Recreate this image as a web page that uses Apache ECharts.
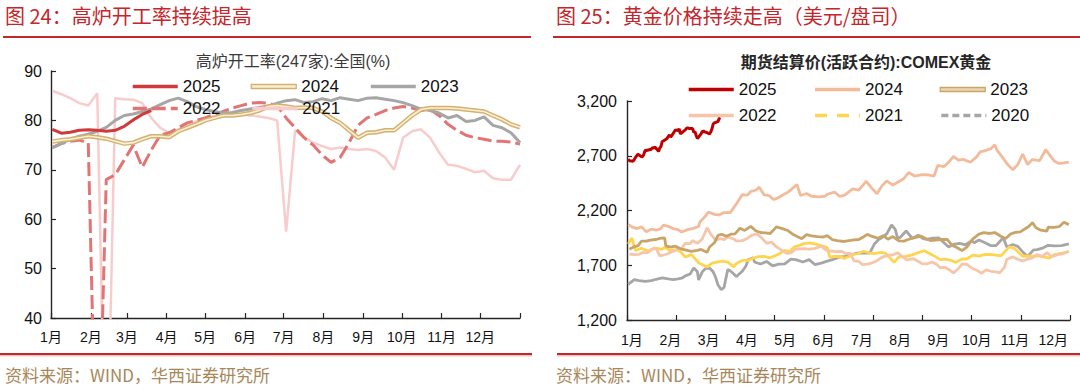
<!DOCTYPE html>
<html><head><meta charset="utf-8">
<script src="https://cdn.jsdelivr.net/npm/echarts@6/dist/echarts.min.js"></script>
<style>html,body{margin:0;padding:0;background:#fff}#c{width:1080px;height:390px}</style>
</head><body><div id="c"></div>
<script>
// ---------- text ----------
const leftHeading = '图 24：高炉开工率持续提高';
const rightHeading = '图 25：黄金价格持续走高（美元/盘司）';
const leftTitle = '高炉开工率(247家):全国(%)';
const rightTitle = '期货结算价(活跃合约):COMEX黄金';
const sourceNote = '资料来源：WIND，华西证券研究所';
const monthLabels = ['1月','2月','3月','4月','5月','6月','7月','8月','9月','10月','11月','12月'];
const monthStartDays = [0,31,59,90,120,151,181,212,243,273,304,334,365];
const bfYTicks = [40,50,60,70,80,90];
const goldYTicks = [1200,1700,2200,2700,3200];

// ---------- blast furnace utilisation, weekly (first week = day 1) ----------
const bf2025 = [78.2,77.4,77.6,78,78.1,78,77.8,78,78.8,80.1,81.2,82];
const bf2024 = [75.7,76,76.2,76.5,76.8,76.6,76.3,75.8,75.3,75.5,76.2,76.8,76.8,76.6,77.8,78.5,79.2,80,80.5,81,81,81.2,81.5,82,82.8,83,82.8,82.5,82.6,82.5,81.8,80.5,79.5,78,76.5,77.5,77.6,78,78,79.5,81,82.2,82.5,82.5,82.5,82.4,82.2,82,81.8,81,80.2,79.2,78.6];
const bf2023 = [74.5,75.3,76.2,76.8,77.2,77.8,78.6,80,81,81.3,81.8,82.3,83.2,84,84.5,83.8,82.8,82.2,81.8,81.5,81.6,82,82.3,82.6,82.9,83.5,84,84.2,83.6,83.8,84.4,84,84.6,84.3,84,84.5,84.6,84.3,84,83.6,83,82.3,82,81.5,80.5,81,79.8,80,80.7,79,78.5,77.5,75.5];
const bf2022 = [74.5,75.3,75.8,76,75.5,0,68,69,72,75,70.5,74,77,77.5,78.5,79.5,80,80.5,81.2,81.8,82.5,83,83.5,83.6,83.5,83,80.5,78.5,76.5,75,73,71.5,72.5,75.5,79,80.5,81.2,82,82.5,82.8,82.5,82,82.2,81,79.2,78,77,76.5,76.2,75.8,75.8,75.6,75.2];
const bf2021 = [86,85.3,84.5,83.5,83,85.5,0,84.5,84.3,84.2,83.5,80.5,78.5,77.5,78.2,79,79.8,80.3,80.8,81,81,81.2,81,80.8,80.5,80,57.5,78,76.5,75.5,74.8,74.2,74.5,74.2,74,74.2,73.8,72.5,70,76.5,77.8,78.2,76.5,73.5,71,70.8,70.2,69.5,69.8,68.3,68,68,71];

// ---------- COMEX gold, [day of year, USD/oz] ----------
const gold2025 = [[1,2669],[2,2655],[5,2650],[6,2665],[7,2685],[9,2715],[12,2690],[13,2694],[14,2718],[15,2750],[16,2748],[20,2760],[21,2775],[22,2770],[23,2780],[26,2740],[27,2770],[28,2785],[29,2830],[30,2835],[33,2857],[34,2877],[35,2890],[36,2870],[37,2886],[40,2937],[41,2932],[42,2930],[43,2946],[44,2900],[48,2936],[49,2950],[50,2954],[51,2950],[54,2950],[55,2915],[56,2920],[57,2885],[58,2857],[61,2900],[62,2921],[63,2925],[64,2918],[65,2915],[68,2900],[69,2917],[70,2945],[71,2990],[72,3001],[75,3013],[76,3041],[77,3048]];
const gold2024 = [[1,2073],[4,2050],[8,2035],[12,2050],[16,2006],[20,2030],[24,2020],[28,2035],[30,2067],[34,2055],[38,2035],[42,2025],[45,2004],[50,2025],[54,2035],[59,2054],[60,2095],[64,2140],[67,2186],[72,2165],[76,2160],[80,2181],[85,2180],[90,2258],[95,2345],[99,2340],[102,2374],[106,2385],[109,2413],[113,2342],[117,2335],[121,2300],[123,2308],[128,2340],[133,2370],[140,2438],[143,2337],[148,2355],[152,2330],[158,2325],[163,2330],[165,2348],[171,2369],[175,2330],[179,2339],[186,2397],[191,2385],[197,2467],[202,2400],[206,2353],[210,2425],[214,2470],[219,2432],[224,2465],[228,2490],[232,2547],[237,2515],[243,2527],[249,2524],[253,2515],[256,2611],[261,2600],[265,2640],[269,2694],[273,2660],[277,2667],[283,2640],[288,2690],[291,2736],[296,2750],[300,2765],[303,2800],[305,2749],[310,2676],[314,2615],[318,2572],[322,2620],[326,2716],[330,2621],[334,2665],[340,2656],[345,2757],[350,2680],[352,2653],[356,2630],[360,2635],[364,2641]];
const gold2023 = [[2,1846],[6,1870],[9,1877],[12,1921],[16,1920],[19,1930],[24,1935],[27,1945],[31,1950],[32,1876],[36,1865],[40,1874],[44,1850],[48,1840],[53,1826],[58,1836],[61,1844],[66,1818],[68,1867],[72,1905],[75,1973],[78,1982],[82,1965],[86,1985],[89,1986],[93,2038],[97,2018],[102,2055],[106,2015],[110,1999],[114,1995],[118,1990],[122,2037],[123,2050],[128,2035],[132,2020],[137,1980],[141,1958],[144,1943],[148,1980],[152,1969],[157,1962],[162,1958],[165,1970],[169,1935],[173,1925],[179,1917],[183,1925],[187,1932],[191,1935],[195,1960],[198,1982],[202,1963],[207,1946],[211,1970],[215,1938],[219,1962],[224,1923],[228,1920],[233,1940],[242,1966],[246,1945],[250,1926],[256,1932],[260,1935],[264,1935],[268,1880],[271,1866],[276,1834],[280,1865],[285,1941],[290,1985],[294,1998],[299,1990],[303,1999],[308,1965],[312,1945],[316,1985],[320,2000],[324,2005],[331,2054],[334,2089],[337,2042],[341,2020],[346,2011],[347,2048],[352,2045],[356,2052],[360,2092],[364,2071]];
const gold2022 = [[2,1801],[6,1797],[10,1800],[13,1816],[17,1815],[20,1842],[24,1853],[27,1785],[31,1796],[34,1807],[38,1827],[41,1842],[45,1855],[48,1900],[52,1898],[54,1926],[58,1900],[62,1940],[66,2043],[69,1985],[73,1929],[77,1943],[80,1935],[83,1958],[88,1940],[90,1923],[95,1925],[99,1945],[103,1975],[107,1986],[111,1950],[115,1900],[119,1911],[123,1870],[127,1840],[132,1808],[135,1813],[139,1847],[143,1850],[146,1851],[150,1848],[155,1854],[160,1875],[164,1838],[168,1830],[172,1825],[177,1827],[180,1807],[184,1810],[187,1740],[191,1735],[194,1705],[198,1710],[201,1718],[205,1735],[209,1765],[212,1781],[216,1791],[220,1800],[223,1815],[227,1776],[231,1748],[236,1760],[240,1735],[243,1715],[247,1712],[251,1729],[255,1710],[258,1677],[262,1681],[266,1655],[269,1630],[273,1668],[276,1711],[280,1709],[284,1675],[289,1649],[292,1627],[296,1657],[300,1645],[304,1640],[307,1630],[311,1680],[313,1755],[318,1776],[322,1754],[326,1740],[330,1755],[334,1768],[338,1797],[342,1782],[346,1815],[350,1778],[355,1797],[359,1805],[364,1826]];
const gold2021 = [[1,1895],[4,1950],[5,1908],[7,1835],[12,1855],[14,1845],[18,1830],[22,1856],[25,1855],[28,1845],[32,1863],[35,1834],[40,1842],[44,1825],[48,1775],[53,1797],[55,1775],[59,1723],[63,1700],[66,1683],[70,1720],[75,1731],[79,1738],[83,1728],[88,1685],[90,1715],[95,1744],[100,1745],[104,1764],[108,1779],[113,1780],[118,1768],[123,1792],[127,1815],[130,1836],[134,1825],[138,1869],[142,1881],[146,1898],[150,1905],[155,1895],[160,1879],[165,1861],[167,1774],[171,1780],[176,1780],[179,1761],[186,1796],[190,1805],[195,1828],[200,1812],[204,1805],[209,1817],[213,1810],[217,1763],[220,1726],[224,1775],[230,1781],[235,1795],[240,1815],[245,1833],[252,1792],[258,1751],[262,1755],[267,1745],[271,1726],[276,1758],[280,1757],[285,1793],[290,1783],[294,1796],[299,1799],[304,1793],[308,1785],[315,1868],[319,1855],[326,1782],[330,1785],[334,1783],[339,1785],[348,1764],[352,1798],[355,1803],[359,1810],[364,1828]];
const gold2020 = [[1,1525],[6,1568],[10,1560],[15,1552],[20,1560],[24,1572],[29,1585],[34,1575],[38,1568],[42,1575],[45,1582],[49,1608],[52,1620],[55,1676],[58,1640],[59,1566],[62,1640],[65,1672],[68,1675],[71,1640],[73,1590],[75,1520],[77,1487],[78,1478],[80,1500],[83,1660],[85,1650],[88,1620],[90,1596],[95,1645],[98,1693],[100,1752],[104,1768],[105,1730],[110,1711],[115,1735],[120,1694],[125,1711],[130,1713],[135,1756],[139,1752],[145,1730],[150,1751],[155,1705],[160,1720],[165,1737],[170,1753],[175,1775],[180,1781],[183,1790],[187,1803],[190,1810],[195,1813],[200,1810],[204,1897],[207,1931],[210,1953],[214,1986],[218,2069],[221,2028],[223,1946],[225,1954],[230,2013],[235,1947],[240,1974],[244,1944],[247,1936],[252,1947],[257,1949],[261,1907],[265,1866],[269,1890],[274,1900],[279,1887],[284,1925],[286,1906],[290,1930],[295,1906],[300,1879],[304,1879],[310,1951],[313,1866],[318,1889],[322,1872],[327,1811],[330,1780],[335,1840],[338,1843],[343,1859],[347,1882],[352,1877],[358,1880],[364,1895]];

// ---------- build ----------
const weekly = arr => arr.map((v, i) => [1 + 7 * i, v]);
const FONT = "'Liberation Sans', 'Noto Sans CJK SC', sans-serif";
const CJK = "'Noto Sans CJK SC', sans-serif";
const AX = '#262626';

const goldTickDays = [];
for (let k = 0; k <= 9; k++) goldTickDays.push(365 * k / 9);
const goldLabelDays = monthLabels.map((m, k) => 4.1 + 31.56 * k);

const chart = echarts.init(document.getElementById('c'), null, {renderer: 'svg', width: 1080, height: 390});

const lineS = (name, data, xi, color, width, extra) => Object.assign({
  type: 'line', name, data, xAxisIndex: xi, yAxisIndex: xi,
  symbol: 'none', showSymbol: false, clip: true, silent: true,
  lineStyle: {color, width}, itemStyle: {color}
}, extra || {});

const legendBase = {
  itemWidth: 45, itemHeight: 14, itemGap: 31, orient: 'horizontal',
  itemStyle: {opacity: 0},
  lineStyle: {width: 3.5},
  textStyle: {fontSize: 17, fontFamily: FONT, color: '#111'}, selectedMode: false
};
const doubleIcon = (fill, border) => ({icon: 'path://M0 0H45V4H0Z', itemStyle: {color: fill, borderColor: border, borderWidth: 1.3, opacity: 1}});

const option = {
  animation: false,
  backgroundColor: '#fff',
  title: [
    {text: leftTitle, left: 288, top: 48, textAlign: 'center',
     textStyle: {fontSize: 16, fontWeight: 'normal', color: '#3a3a3a', fontFamily: FONT}},
    {text: rightTitle, left: 861, top: 49, textAlign: 'center',
     textStyle: {fontSize: 16, fontWeight: 'bold', color: '#262626', fontFamily: FONT}}
  ],
  legend: [
    Object.assign({}, legendBase, {left: 126, top: 73, itemGap: 30,
      data: ['2025', Object.assign({name: '2024'}, doubleIcon('#fcf0d4', '#d3b170')), '2023']}),
    Object.assign({}, legendBase, {left: 126, top: 95, itemGap: 30, data: ['2022', '2021']}),
    Object.assign({}, legendBase, {left: 682, top: 76, itemGap: 32,
      data: ['2025 ', '2024 ', Object.assign({name: '2023 '}, doubleIcon('#ead8b2', '#c9a66a'))]}),
    Object.assign({}, legendBase, {left: 682, top: 102, itemGap: 32,
      data: ['2022 ',
        {name: '2021 ', lineStyle: {type: [12, 10], width: 3.5}},
        {name: '2020 ', lineStyle: {type: [7, 4], width: 3.5}}]})
  ],
  grid: [
    {left: 51, top: 71, width: 469, height: 247, containLabel: false},
    {left: 627, top: 101, width: 443, height: 219, containLabel: false}
  ],
  xAxis: [
    {gridIndex: 0, type: 'value', min: 0, max: 365,
     axisLine: {show: true, lineStyle: {color: AX, width: 1.4}},
     axisTick: {show: true, inside: true, length: 5, customValues: monthStartDays, lineStyle: {color: AX, width: 1.2}},
     axisLabel: {customValues: monthStartDays.slice(0, 12), formatter: v => monthLabels[monthStartDays.indexOf(v)] || '',
       fontSize: 14, color: '#111', fontFamily: FONT, margin: 12},
     splitLine: {show: false}},
    {gridIndex: 1, type: 'value', min: 0, max: 365,
     axisLine: {show: true, lineStyle: {color: AX, width: 1.4}},
     axisTick: {show: true, inside: true, length: 5, customValues: goldTickDays, lineStyle: {color: AX, width: 1.2}},
     axisLabel: {customValues: goldLabelDays, formatter: v => monthLabels[Math.round((v - 4.1) / 31.56)] || '',
       fontSize: 14, color: '#111', fontFamily: FONT, margin: 13},
     splitLine: {show: false}}
  ],
  yAxis: [
    {gridIndex: 0, type: 'value', min: 40, max: 90,
     axisLine: {show: true, lineStyle: {color: AX, width: 1.4}},
     axisTick: {show: true, inside: true, length: 5, customValues: bfYTicks, lineStyle: {color: AX, width: 1.2}},
     axisLabel: {customValues: bfYTicks, fontSize: 16, color: '#111', fontFamily: FONT, margin: 9},
     splitLine: {show: false}},
    {gridIndex: 1, type: 'value', min: 1200, max: 3200,
     axisLine: {show: true, lineStyle: {color: AX, width: 1.4}},
     axisTick: {show: true, inside: true, length: 5, customValues: goldYTicks, lineStyle: {color: AX, width: 1.2}},
     axisLabel: {customValues: goldYTicks, formatter: v => Number(v).toLocaleString('en-US'),
       fontSize: 16, color: '#111', fontFamily: FONT, margin: 10},
     splitLine: {show: false}}
  ],
  series: [
    // left panel
    lineS('2021', weekly(bf2021), 0, '#f8cccc', 2.5),
    lineS('2022', weekly(bf2022), 0, '#e27474', 3, {lineStyle: {color: '#e27474', width: 3, type: [14, 5]}}),
    lineS('2023', weekly(bf2023), 0, '#a6a6a6', 3),
    lineS('2024', weekly(bf2024), 0, '#d3b170', 4.5),
    lineS('2024inner', weekly(bf2024), 0, '#fcf0d4', 1.6),
    lineS('2025', weekly(bf2025), 0, '#d03a3a', 3),
    // right panel
    lineS('2020 ', gold2020, 1, '#a6a6a6', 2.8),
    lineS('2021 ', gold2021, 1, '#ffd54f', 2.8),
    lineS('2022 ', gold2022, 1, '#f6c6ab', 2.8),
    lineS('2023 ', gold2023, 1, '#c9a468', 2.8),
    lineS('2024 ', gold2024, 1, '#f4bb9b', 2.8),
    lineS('2025 ', gold2025, 1, '#c00000', 3)
  ],
  graphic: [
    {type: 'text', left: 5, top: 5, style: {text: leftHeading, fontSize: 20, fontFamily: CJK, fill: '#c3262b'}},
    {type: 'text', left: 556, top: 5, style: {text: rightHeading, fontSize: 20, fontFamily: CJK, fill: '#c3262b'}},
    {type: 'rect', shape: {x: 3, y: 36, width: 528, height: 2}, style: {fill: '#c0282d'}},
    {type: 'rect', shape: {x: 553, y: 36, width: 527, height: 2}, style: {fill: '#c0282d'}},
    {type: 'rect', shape: {x: 0, y: 353, width: 532, height: 2}, style: {fill: '#c0282d'}},
    {type: 'rect', shape: {x: 0, y: 355, width: 532, height: 1.5}, style: {fill: '#eec3c3'}},
    {type: 'rect', shape: {x: 557, y: 353, width: 523, height: 2}, style: {fill: '#c0282d'}},
    {type: 'rect', shape: {x: 557, y: 355, width: 523, height: 1.5}, style: {fill: '#eec3c3'}},
    {type: 'text', left: 5, top: 366, style: {text: sourceNote, fontSize: 17, fontFamily: CJK, fill: '#a8875a'}},
    {type: 'text', left: 556, top: 366, style: {text: sourceNote, fontSize: 17, fontFamily: CJK, fill: '#a8875a'}}
  ]
};
chart.setOption(option);
</script>
</body></html>
